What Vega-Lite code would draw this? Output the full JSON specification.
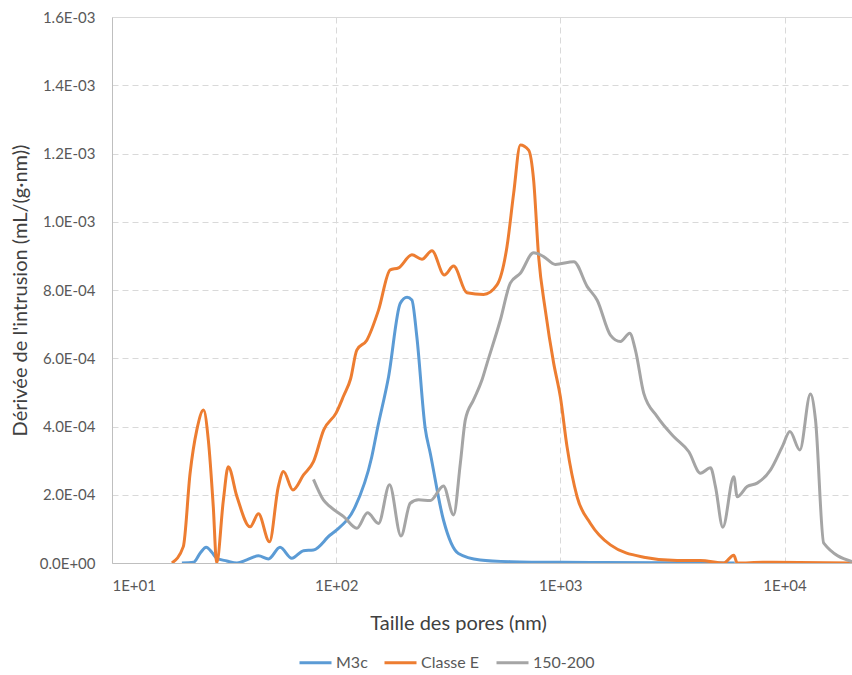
{
  "$schema": "https://vega.github.io/schema/vega-lite/v6.json",
  "width": 740,
  "height": 546,
  "autosize": {"type": "none"},
  "padding": {"left": 112, "top": 17, "right": 0, "bottom": 112},
  "background": "white",
  "config": {
    "font": "Lato",
    "view": {"stroke": null},
    "axis": {"labelFont": "Lato", "titleFont": "Lato"}
  },
  "data": {
    "values": [
      {"s": "M3c", "x": 20.5, "y": 0},
      {"s": "M3c", "x": 23.1, "y": 0.000002},
      {"s": "M3c", "x": 24.8, "y": 0.00003},
      {"s": "M3c", "x": 26.3, "y": 0.000046},
      {"s": "M3c", "x": 28, "y": 0.00003},
      {"s": "M3c", "x": 29.3, "y": 0.000014},
      {"s": "M3c", "x": 32.5, "y": 0.000006},
      {"s": "M3c", "x": 36.1, "y": 0},
      {"s": "M3c", "x": 39.9, "y": 0.000009},
      {"s": "M3c", "x": 45, "y": 0.000021},
      {"s": "M3c", "x": 49.9, "y": 0.000012},
      {"s": "M3c", "x": 56.2, "y": 0.000046},
      {"s": "M3c", "x": 63.4, "y": 0.000014},
      {"s": "M3c", "x": 71.5, "y": 0.000036},
      {"s": "M3c", "x": 79.2, "y": 0.000038},
      {"s": "M3c", "x": 94, "y": 0.000082},
      {"s": "M3c", "x": 100.6, "y": 0.000097},
      {"s": "M3c", "x": 121.6, "y": 0.000165},
      {"s": "M3c", "x": 144, "y": 0.00031},
      {"s": "M3c", "x": 152.9, "y": 0.000395},
      {"s": "M3c", "x": 171.3, "y": 0.000546},
      {"s": "M3c", "x": 193.2, "y": 0.000761},
      {"s": "M3c", "x": 207, "y": 0.000779},
      {"s": "M3c", "x": 217.6, "y": 0.000771},
      {"s": "M3c", "x": 229, "y": 0.000663},
      {"s": "M3c", "x": 249.5, "y": 0.000395},
      {"s": "M3c", "x": 263, "y": 0.000321},
      {"s": "M3c", "x": 301, "y": 0.000126},
      {"s": "M3c", "x": 351, "y": 0.000028},
      {"s": "M3c", "x": 439, "y": 0.000009},
      {"s": "M3c", "x": 598, "y": 0.000004},
      {"s": "M3c", "x": 1000, "y": 0.000002},
      {"s": "M3c", "x": 3000, "y": 0.000001},
      {"s": "M3c", "x": 6000, "y": 0},
      {"s": "Classe E", "x": 18.5, "y": 0},
      {"s": "Classe E", "x": 20.8, "y": 0.000048},
      {"s": "Classe E", "x": 22.3, "y": 0.000263},
      {"s": "Classe E", "x": 23.9, "y": 0.00039},
      {"s": "Classe E", "x": 25.6, "y": 0.000448},
      {"s": "Classe E", "x": 26.9, "y": 0.00036},
      {"s": "Classe E", "x": 28.3, "y": 0.000165},
      {"s": "Classe E", "x": 29.3, "y": 0},
      {"s": "Classe E", "x": 31.4, "y": 0.000185},
      {"s": "Classe E", "x": 33, "y": 0.000282},
      {"s": "Classe E", "x": 36.1, "y": 0.000194},
      {"s": "Classe E", "x": 41.3, "y": 0.000106},
      {"s": "Classe E", "x": 45, "y": 0.000144},
      {"s": "Classe E", "x": 50.4, "y": 0.000062},
      {"s": "Classe E", "x": 55.2, "y": 0.000224},
      {"s": "Classe E", "x": 58.2, "y": 0.000268},
      {"s": "Classe E", "x": 64.1, "y": 0.000214},
      {"s": "Classe E", "x": 71.5, "y": 0.000258},
      {"s": "Classe E", "x": 79.2, "y": 0.000297},
      {"s": "Classe E", "x": 88, "y": 0.00039},
      {"s": "Classe E", "x": 100, "y": 0.00044},
      {"s": "Classe E", "x": 108, "y": 0.00049},
      {"s": "Classe E", "x": 116, "y": 0.00054},
      {"s": "Classe E", "x": 123.6, "y": 0.000624},
      {"s": "Classe E", "x": 137, "y": 0.000653},
      {"s": "Classe E", "x": 154.5, "y": 0.000741},
      {"s": "Classe E", "x": 174.2, "y": 0.000859},
      {"s": "Classe E", "x": 189.8, "y": 0.000865},
      {"s": "Classe E", "x": 217.6, "y": 0.000903},
      {"s": "Classe E", "x": 241.3, "y": 0.00089},
      {"s": "Classe E", "x": 267.5, "y": 0.000915},
      {"s": "Classe E", "x": 303.6, "y": 0.000844},
      {"s": "Classe E", "x": 334, "y": 0.00087},
      {"s": "Classe E", "x": 383, "y": 0.000792},
      {"s": "Classe E", "x": 454.6, "y": 0.000787},
      {"s": "Classe E", "x": 521.7, "y": 0.000815},
      {"s": "Classe E", "x": 578, "y": 0.000927},
      {"s": "Classe E", "x": 619, "y": 0.001083},
      {"s": "Classe E", "x": 663, "y": 0.001225},
      {"s": "Classe E", "x": 722, "y": 0.00121},
      {"s": "Classe E", "x": 760, "y": 0.001122},
      {"s": "Classe E", "x": 800, "y": 0.000898},
      {"s": "Classe E", "x": 857, "y": 0.000741},
      {"s": "Classe E", "x": 934, "y": 0.000585},
      {"s": "Classe E", "x": 1000, "y": 0.000487},
      {"s": "Classe E", "x": 1071, "y": 0.000341},
      {"s": "Classe E", "x": 1188, "y": 0.000194},
      {"s": "Classe E", "x": 1362, "y": 0.000116},
      {"s": "Classe E", "x": 1672, "y": 0.000053},
      {"s": "Classe E", "x": 2356, "y": 0.000017},
      {"s": "Classe E", "x": 3320, "y": 0.000007},
      {"s": "Classe E", "x": 4217, "y": 0.000007},
      {"s": "Classe E", "x": 5357, "y": 0},
      {"s": "Classe E", "x": 5940, "y": 0.000023},
      {"s": "Classe E", "x": 6150, "y": 0},
      {"s": "Classe E", "x": 8000, "y": 0.000002},
      {"s": "Classe E", "x": 20000, "y": 0},
      {"s": "150-200", "x": 79.2, "y": 0.000245},
      {"s": "150-200", "x": 87.7, "y": 0.000185},
      {"s": "150-200", "x": 94, "y": 0.000165},
      {"s": "150-200", "x": 108, "y": 0.000136},
      {"s": "150-200", "x": 123.6, "y": 0.000102},
      {"s": "150-200", "x": 138, "y": 0.000147},
      {"s": "150-200", "x": 154.5, "y": 0.000116},
      {"s": "150-200", "x": 173, "y": 0.000229},
      {"s": "150-200", "x": 194.6, "y": 0.000079},
      {"s": "150-200", "x": 214, "y": 0.000175},
      {"s": "150-200", "x": 233, "y": 0.000185},
      {"s": "150-200", "x": 263, "y": 0.000183},
      {"s": "150-200", "x": 301, "y": 0.000226},
      {"s": "150-200", "x": 334, "y": 0.000141},
      {"s": "150-200", "x": 358, "y": 0.000292},
      {"s": "150-200", "x": 377, "y": 0.00042},
      {"s": "150-200", "x": 410, "y": 0.000478},
      {"s": "150-200", "x": 447, "y": 0.000536},
      {"s": "150-200", "x": 471, "y": 0.000585},
      {"s": "150-200", "x": 540, "y": 0.000712},
      {"s": "150-200", "x": 598, "y": 0.00082},
      {"s": "150-200", "x": 663, "y": 0.000849},
      {"s": "150-200", "x": 760, "y": 0.000909},
      {"s": "150-200", "x": 842, "y": 0.000898},
      {"s": "150-200", "x": 950, "y": 0.000875},
      {"s": "150-200", "x": 1149, "y": 0.000883},
      {"s": "150-200", "x": 1318, "y": 0.00081},
      {"s": "150-200", "x": 1460, "y": 0.00077},
      {"s": "150-200", "x": 1672, "y": 0.000668},
      {"s": "150-200", "x": 1854, "y": 0.000649},
      {"s": "150-200", "x": 2039, "y": 0.000673},
      {"s": "150-200", "x": 2162, "y": 0.000624},
      {"s": "150-200", "x": 2356, "y": 0.000497},
      {"s": "150-200", "x": 2704, "y": 0.000429},
      {"s": "150-200", "x": 3210, "y": 0.00037},
      {"s": "150-200", "x": 3743, "y": 0.000326},
      {"s": "150-200", "x": 4217, "y": 0.000263},
      {"s": "150-200", "x": 4677, "y": 0.000279},
      {"s": "150-200", "x": 4920, "y": 0.000224},
      {"s": "150-200", "x": 5308, "y": 0.000105},
      {"s": "150-200", "x": 5940, "y": 0.000253},
      {"s": "150-200", "x": 6150, "y": 0.000194},
      {"s": "150-200", "x": 6813, "y": 0.000224},
      {"s": "150-200", "x": 7549, "y": 0.000234},
      {"s": "150-200", "x": 8664, "y": 0.000273},
      {"s": "150-200", "x": 9774, "y": 0.000341},
      {"s": "150-200", "x": 10570, "y": 0.000385},
      {"s": "150-200", "x": 11700, "y": 0.000331},
      {"s": "150-200", "x": 13050, "y": 0.000495},
      {"s": "150-200", "x": 13750, "y": 0.000419},
      {"s": "150-200", "x": 14960, "y": 0.000058},
      {"s": "150-200", "x": 20000, "y": 0.000004}
    ]
  },
  "mark": {"type": "line", "interpolate": "monotone", "strokeWidth": 3, "clip": true},
  "encoding": {
    "x": {
      "field": "x",
      "type": "quantitative",
      "scale": {"type": "log", "domain": [10, 20000], "nice": false},
      "axis": {
        "values": [10, 100, 1000, 10000],
        "labelExpr": "'1E+0' + round(log(datum.value) / LN10)",
        "title": "Taille des pores (nm)",
        "titleX": 346,
        "titleY": 60,
        "titleBaseline": "middle",
        "titleFontSize": 20,
        "titleFontWeight": "normal",
        "titleColor": "#404040",
        "labelFontSize": 15,
        "labelColor": "#595959",
        "labelPadding": 15,
        "ticks": false,
        "tickSize": 0,
        "domainColor": "#BFBFBF",
        "domainWidth": 1,
        "grid": true,
        "gridColor": "#D9D9D9",
        "gridDash": [6, 4],
        "gridWidth": 1
      }
    },
    "y": {
      "field": "y",
      "type": "quantitative",
      "scale": {"domain": [0, 0.0016], "nice": false},
      "axis": {
        "values": [0, 0.0002, 0.0004, 0.0006, 0.0008, 0.001, 0.0012, 0.0014, 0.0016],
        "labelExpr": "datum.value == 0 ? '0.0E+00' : format(datum.value / pow(10, floor(log(datum.value) / LN10 + 1e-9)), '.1f') + 'E-0' + (-floor(log(datum.value) / LN10 + 1e-9))",
        "title": "Dérivée de l'intrusion (mL/(g·nm))",
        "titleX": -92,
        "titleY": 273,
        "titleAngle": -90,
        "titleAlign": "center",
        "titleBaseline": "middle",
        "titleFontSize": 20,
        "titleFontWeight": "normal",
        "titleColor": "#404040",
        "labelFontSize": 15,
        "labelColor": "#595959",
        "labelPadding": 17,
        "ticks": false,
        "tickSize": 0,
        "domainColor": "#BFBFBF",
        "domainWidth": 1,
        "grid": true,
        "gridColor": "#D9D9D9",
        "gridDash": {"condition": {"test": "datum.value >= 0.0016", "value": []}, "value": [6, 4]},
        "gridWidth": 1
      }
    },
    "color": {
      "field": "s",
      "type": "nominal",
      "sort": ["M3c", "Classe E", "150-200"],
      "scale": {"domain": ["M3c", "Classe E", "150-200"], "range": ["#5B9BD5", "#ED7D31", "#A5A5A5"]},
      "legend": {
        "title": null,
        "orient": "none",
        "direction": "horizontal",
        "legendX": 186,
        "legendY": 628,
        "symbolType": "stroke",
        "symbolSize": 1024,
        "symbolStrokeWidth": 3,
        "labelOffset": 3,
        "columnPadding": 10,
        "labelFontSize": 16,
        "labelColor": "#595959",
        "labelFont": "Lato"
      }
    }
  }
}
